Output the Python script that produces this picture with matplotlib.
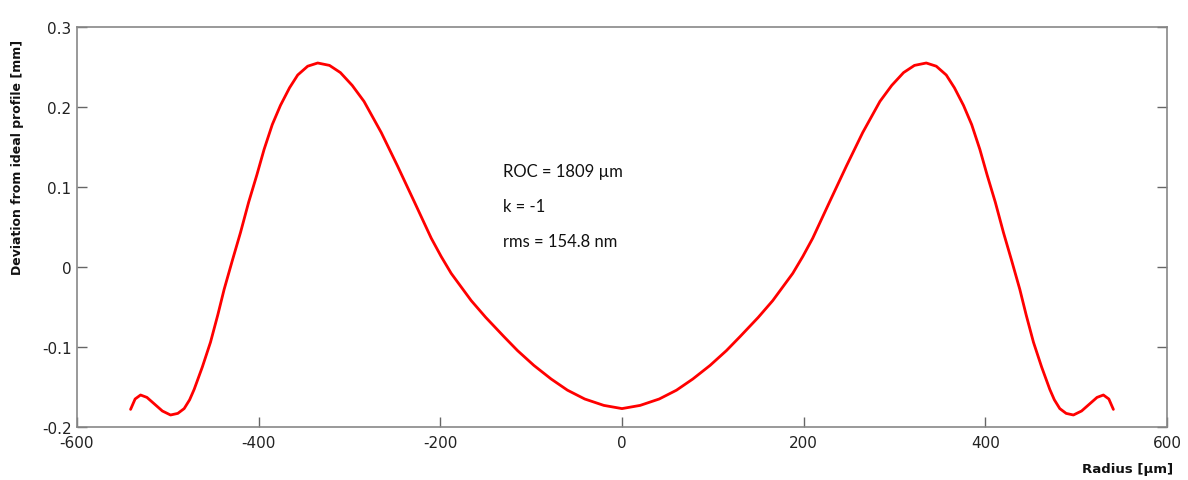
import numpy as np
import matplotlib.pyplot as plt

# left half of the profile (radius in um, deviation in mm)
radius_left = [-541, -536, -530, -523, -515, -506, -497, -489, -482, -476,
               -471, -462, -453, -445, -438, -429, -420, -411, -402, -394,
               -385, -376, -366, -357, -346, -335, -322, -310, -297, -284,
               -265, -247, -228, -210, -199, -188, -177, -166, -150, -130,
               -115, -97, -78, -60, -41, -20, 0]
dev_left = [-0.178, -0.165, -0.160, -0.163, -0.171, -0.180, -0.185, -0.183, -0.177, -0.166,
            -0.153, -0.125, -0.094, -0.060, -0.028, 0.008, 0.043, 0.081, 0.115, 0.147,
            0.178, 0.202, 0.224, 0.240, 0.251, 0.255, 0.252, 0.243, 0.227, 0.207,
            0.168, 0.126, 0.080, 0.036, 0.013, -0.008, -0.025, -0.042, -0.063, -0.087,
            -0.1045, -0.123, -0.140, -0.154, -0.165, -0.173, -0.177]

# right half
radius_right = [20, 41, 60, 78, 97, 115, 130, 150, 166, 177,
                188, 199, 210, 228, 247, 265, 284, 297, 310, 322,
                335, 346, 357, 366, 376, 385, 394, 402, 411, 420,
                429, 438, 445, 453, 462, 471, 476, 482, 489, 497,
                506, 515, 523, 530, 536, 541]
dev_right = [-0.173, -0.165, -0.154, -0.140, -0.123, -0.1045, -0.087, -0.063, -0.042, -0.025,
             -0.008, 0.013, 0.036, 0.080, 0.126, 0.168, 0.207, 0.227, 0.243, 0.252,
             0.255, 0.251, 0.240, 0.224, 0.202, 0.178, 0.147, 0.115, 0.081, 0.043,
             0.008, -0.028, -0.060, -0.094, -0.125, -0.153, -0.166, -0.177, -0.183, -0.185,
             -0.180, -0.171, -0.163, -0.160, -0.165, -0.178]

x_ticks = [-600, -400, -200, 0, 200, 400, 600]
y_ticks = [-0.2, -0.1, 0, 0.1, 0.2, 0.3]
y_tick_labels = ['-0.2', '-0.1', '0', '0.1', '0.2', '0.3']
notes = ['ROC = 1809 \u00b5m', 'k = -1', 'rms = 154.8 nm']

radius = radius_left + radius_right
dev = dev_left + dev_right

fig = plt.figure(figsize=(11.88, 4.81), dpi=100)
ax = fig.add_axes([0.0648, 0.1102, 0.9175, 0.8316])

ax.plot(radius, dev, color='#ff0000', lw=2.0, solid_capstyle='round',
        solid_joinstyle='round')

ax.set_xlim(-600, 600)
ax.set_ylim(-0.2, 0.3)
ax.set_xticks(x_ticks)
ax.set_xticklabels([str(t) for t in x_ticks])
ax.set_yticks(y_ticks)
ax.set_yticklabels(y_tick_labels)

ax.tick_params(direction='in', length=7, width=1, color='#666666',
               labelsize=11, labelcolor='#222222', pad=4, right=True)
ax.tick_params(axis='x', pad=6)
for s in ax.spines.values():
    s.set_color('#888888')
    s.set_linewidth(1.2)

# annotation text
for i, t in enumerate(notes):
    ax.text(-131, 0.12 - i * 0.0435, t, fontsize=12, family=['Lato', 'DejaVu Sans'],
            va='center', ha='left', color='#111111')

fig.text(18 / 1188, 1 - 157 / 481, 'Deviation from ideal profile [mm]', rotation=90,
         fontsize=9, fontweight='bold', ha='center', va='center', color='#111111')
fig.text(1173 / 1188, 1 - 470 / 481, 'Radius [\u00b5m]', fontsize=9.5,
         fontweight='bold', ha='right', va='center', color='#111111')

fig.savefig('out.png', dpi=100)
